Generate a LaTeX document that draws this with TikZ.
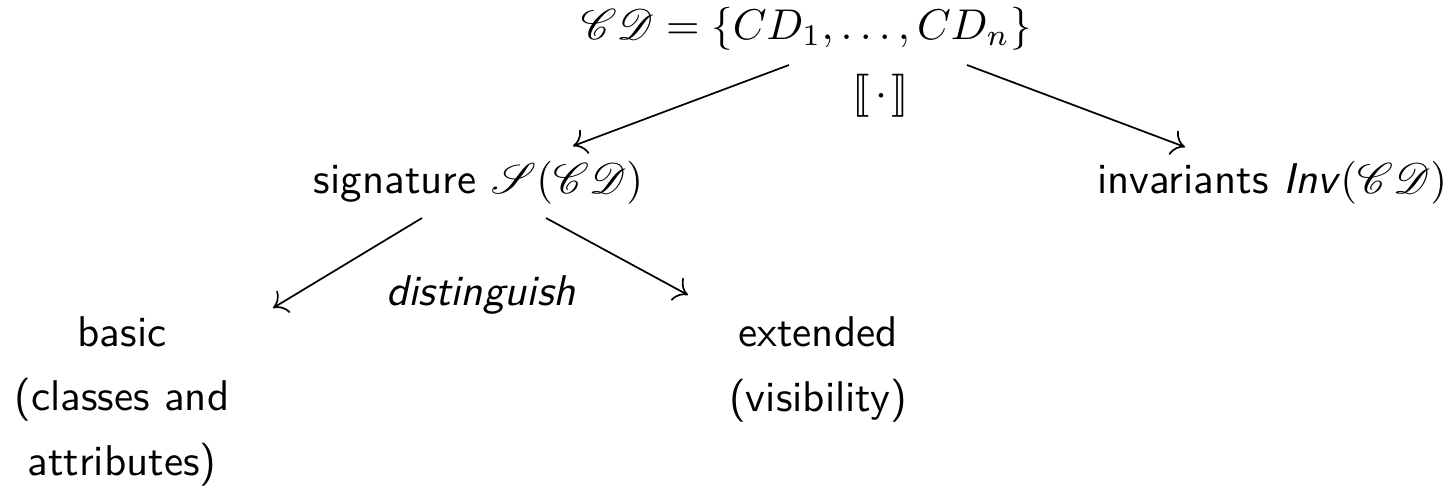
\documentclass[tikz,border=0pt]{standalone}
\usepackage{mathrsfs}
\usepackage{stmaryrd}
\usetikzlibrary{arrows.meta}
\begin{document}
\begin{tikzpicture}[x=0.23256pt,y=-0.23256pt,
  lbl/.style={inner sep=0pt, font=\sffamily\fontsize{10}{14.9}\selectfont},
  arr/.style={-{To[length=3pt,width=6pt]}, line width=0.4pt}]
\useasboundingbox (0,0) rectangle (1454,489);
\node[lbl, anchor=base west] (root) at (580,39) {$\mathscr{C}\mathscr{D} = \{CD_1,\ldots,CD_n\}$};
\node[lbl, anchor=base] (sem) at (881,106) {$\llbracket\mkern2mu\cdot\mkern2mu\rrbracket$};
\node[lbl, anchor=base west] (sig) at (313,193) {signature $\mathscr{S}(\mathscr{C}\mathscr{D})$};
\node[lbl, anchor=base east] (inv) at (1448,193) {invariants \textit{Inv}$(\mathscr{C}\mathscr{D})$};
\node[lbl, anchor=base] (dist) at (481,305) {\textit{distinguish}};
\node[lbl, anchor=base, align=center] (basic) at (122,475) {basic\\(classes and\\attributes)};
\node[lbl, anchor=base, align=center] (ext) at (818,411) {extended\\(visibility)};
\coordinate (r1) at (789,65);
\coordinate (r2) at (967,65);
\coordinate (s0) at (573,146);
\coordinate (i0) at (1185,147);
\coordinate (s1) at (422,218);
\coordinate (s2) at (546,218);
\coordinate (b0) at (273,308);
\coordinate (e0) at (688,295);
\draw[arr] (r1) -- (s0);
\draw[arr] (r2) -- (i0);
\draw[arr] (s1) -- (b0);
\draw[arr] (s2) -- (e0);
\end{tikzpicture}
\end{document}
